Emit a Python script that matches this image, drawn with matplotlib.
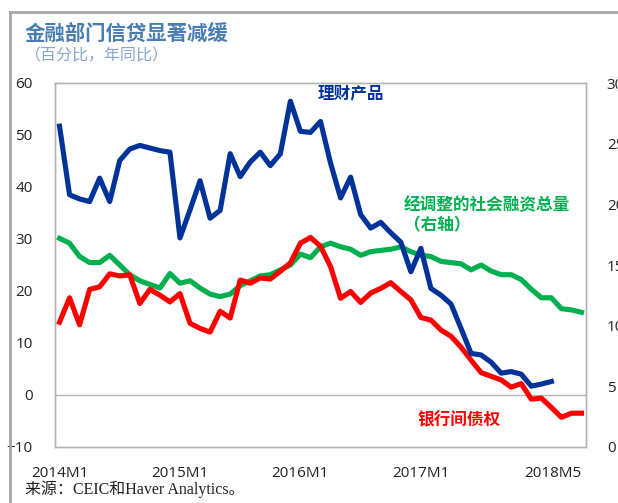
import matplotlib
matplotlib.use("Agg")
import matplotlib.pyplot as plt
import matplotlib.transforms as mtransforms
import numpy as np

plt.rcParams['font.family'] = ['Open Sans', 'Noto Sans CJK SC', 'DejaVu Sans']

# monthly data, 2014M1 .. 2018M5
months = np.arange(53)

wealth_products = [51.7, 38.5, 37.7, 37.2, 41.7, 37.2, 45.1, 47.3, 48.0, 47.5,
                   47.0, 46.7, 30.2, 35.6, 41.2, 34.0, 35.5, 46.4, 42.0, 44.8,
                   46.7, 44.1, 46.4, 56.5, 50.7, 50.5, 52.6, 44.6, 37.9, 41.9,
                   34.7, 32.1, 33.2, 31.2, 29.4, 23.7, 28.2, 20.5, 19.2, 17.5,
                   12.8, 8.0, 7.7, 6.3, 4.2, 4.5, 4.0, 1.7, 2.1, 2.6]

interbank_claims = [14.0, 18.7, 13.5, 20.3, 20.8, 23.3, 22.9, 23.1, 17.6, 20.3,
                    19.2, 17.9, 19.5, 13.8, 12.8, 12.1, 16.1, 14.8, 22.1, 21.5,
                    22.5, 22.3, 23.8, 25.4, 29.2, 30.3, 28.6, 24.7, 18.6, 19.9,
                    17.8, 19.6, 20.5, 21.6, 19.9, 18.3, 14.9, 14.4, 12.5, 11.3,
                    9.2, 6.7, 4.3, 3.6, 2.9, 1.5, 2.2, -0.8, -0.6, -2.4,
                    -4.3, -3.5, -3.5]

adj_tsf = [17.2, 16.8, 15.7, 15.2, 15.2, 15.8, 15.0, 14.2, 13.7, 13.4,
           13.1, 14.3, 13.5, 13.7, 13.1, 12.6, 12.4, 12.6, 13.3, 13.7,
           14.1, 14.2, 14.6, 15.0, 15.9, 15.6, 16.5, 16.8, 16.5, 16.3,
           15.8, 16.1, 16.2, 16.3, 16.5, 16.1, 15.8, 15.7, 15.3, 15.2,
           15.1, 14.6, 15.0, 14.5, 14.2, 14.2, 13.8, 13.0, 12.3, 12.3,
           11.4, 11.3, 11.1]

tick_months = [0, 12, 24, 36, 52]
tick_labels = ['2014M1', '2015M1', '2016M1', '2017M1', '2018M5']

BLUE = '#003399'
RED = '#ff0000'
GREEN = '#00b050'
GRID = '#b4b4b4'
CJK = ['Noto Sans CJK SC']

W, H = 618, 503
fig = plt.figure(figsize=(W / 100, H / 100), dpi=100)

ax = fig.add_axes([55 / W, 1 - 447 / H, 531 / W, 364 / H])
ax2 = ax.twinx()
ax.set_zorder(ax2.get_zorder() + 1)
ax.patch.set_visible(False)

ax2.plot(months[:len(adj_tsf)], adj_tsf, color=GREEN, lw=3.7)
ax.plot(months[:len(interbank_claims)], interbank_claims, color=RED, lw=3.7)
ax.plot(months[:len(wealth_products)], wealth_products, color=BLUE, lw=3.7)
ax.axhline(0, color=GRID, lw=1, zorder=0)

ax.set_xlim(-0.45, 52.45)
ax.set_ylim(-10, 60)
ax2.set_ylim(0, 30)
ax.set_yticks(range(-10, 61, 10))
ax2.set_yticks(range(0, 31, 5))

ax.set_xticks(tick_months)
ax.set_xticklabels(tick_labels)
last = ax.get_xticklabels()[-1]
last.set_horizontalalignment('right')
last.set_transform(last.get_transform() + mtransforms.ScaledTranslation(6 / 100, 0, fig.dpi_scale_trans))

for a in (ax, ax2):
    a.tick_params(length=0, labelsize=11, colors='#222222')
    for s in a.spines.values():
        s.set_color(GRID)
        s.set_linewidth(1)
ax.tick_params(axis='y', pad=16)
ax2.tick_params(axis='y', pad=15)
ax.tick_params(axis='x', pad=14)

# series labels
ax.text(25.7, 58.1, '理财产品', color=BLUE, fontsize=12, fontweight='bold',
        va='center', family=CJK)
ax2.text(34.3, 19.95, '经调整的社会融资总量', color=GREEN, fontsize=12,
         fontweight='bold', va='center', family=CJK)
ax2.text(34.3, 18.3, '（右轴）', color=GREEN, fontsize=12,
         fontweight='bold', va='center', family=CJK)
ax.text(35.7, -4.8, '银行间债权', color=RED, fontsize=12, fontweight='bold',
        va='center', family=CJK)

# title block
fig.text(25 / W, 1 - 33 / H, '金融部门信贷显著减缓', color='#4a7db3', fontsize=14.7,
         fontweight='bold', va='center', family=CJK)
fig.text(25 / W, 1 - 56 / H, '（百分比，年同比）', color='#86a6cc', fontsize=11.5,
         va='center', family=CJK)
fig.text(25 / W, 1 - 489 / H, '来源：CEIC和Haver Analytics。', color='#222222',
         fontsize=11.5, va='center', family=['Liberation Serif', 'Noto Sans CJK SC'])

# outer frame lines
fig.add_artist(plt.Line2D([10 / W, 10 / W], [0, 1 - 12 / H], color='#a6a6a6', lw=2,
                          transform=fig.transFigure))
fig.add_artist(plt.Line2D([10 / W, 1], [1 - 12 / H, 1 - 12 / H], color='#a6a6a6', lw=2,
                          transform=fig.transFigure))

fig.savefig('out.png', dpi=100)
